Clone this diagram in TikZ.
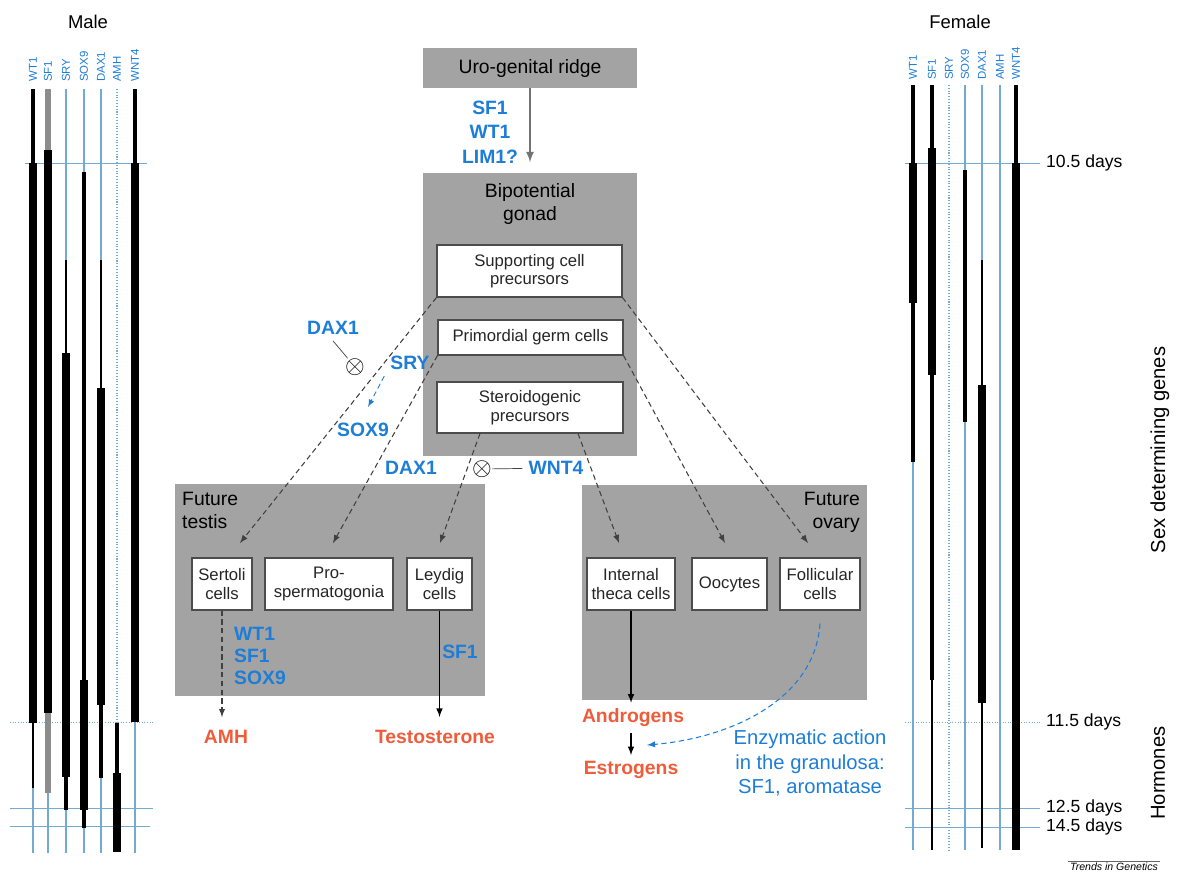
\documentclass[tikz,border=0pt]{standalone}
\usepackage{fontspec}
\setmainfont{Liberation Sans}
\usepackage{tikz}
\usetikzlibrary{arrows}

\definecolor{genblue}{RGB}{30,125,215}
\definecolor{hormred}{RGB}{238,92,58}
\definecolor{boxgrey}{RGB}{163,163,163}
\definecolor{barblue}{RGB}{115,170,210}

\begin{document}
\begin{tikzpicture}[x=0.02cm,y=-0.02cm,
  greybox/.style={fill=boxgrey,draw=none,inner sep=0pt},
  cellbox/.style={fill=white,draw=black!70,line width=0.6pt,inner sep=0pt,align=center,text=black!85,font=\fontsize{9.5}{10.5}\selectfont},
  boxtitle/.style={align=center,font=\fontsize{11}{13}\selectfont},
  gene/.style={text=genblue,align=center,font=\fontsize{11}{14}\selectfont\bfseries},
  hormone/.style={text=hormred,font=\fontsize{11}{13}\selectfont\bfseries},
  colname/.style={text=genblue,rotate=90,anchor=west,inner sep=0pt,font=\fontsize{6.5}{7}\selectfont},
  link/.style={-latex,densely dashed,black!75,line width=0.6pt},
  inhib/.style={inner sep=0pt,font=\fontsize{15}{16}\selectfont},
  barthick/.style={line width=4.2pt},
  barmed/.style={line width=2.8pt},
  barthin/.style={line width=1.5pt},
  bargrey/.style={line width=3pt,black!45},
  barnone/.style={line width=0.6pt,barblue},
  dayline/.style={barblue,line width=0.5pt},
  daylabel/.style={anchor=west,font=\fontsize{10}{12}\selectfont}]

\useasboundingbox (0,0) rectangle (1179,877);

% titles of the two columns of genes
\node[font=\fontsize{10.5}{12}\selectfont] (male) at (88,22) {Male};
\node[font=\fontsize{10.5}{12}\selectfont] (female) at (960,22) {Female};
\foreach \x/\g in {33/WT1,48/SF1,66/SRY,84/SOX9,101/DAX1,117/AMH,135/WNT4}
  \node[colname] (m\g) at (\x,82) {\g};
\foreach \x/\g in {913/WT1,932/SF1,949/SRY,965/SOX9,982/DAX1,1000/AMH,1016/WNT4}
  \node[colname] (f\g) at (\x,80) {\g};

% days
\node[daylabel] (d105) at (1040,163) {10.5 days};
\node[daylabel] (d115) at (1040,722) {11.5 days};
\node[daylabel] (d125) at (1040,808) {12.5 days};
\node[daylabel] (d145) at (1040,827) {14.5 days};
\draw[dayline] (25,163) -- (147,163);
\draw[dayline,densely dotted] (10,722) -- (153,722);
\draw[dayline] (10,808) -- (153,808);
\draw[dayline] (10,826) -- (150,826);
\draw[dayline] (905,163) -- (d105.west);
\draw[dayline,densely dotted] (905,722) -- (d115.west);
\draw[dayline] (905,808) -- (d125.west);
\draw[dayline] (905,827) -- (d145.west);

\node[rotate=90,font=\fontsize{11.5}{13}\selectfont] (sexlbl) at (1160,450) {Sex determining genes};
\node[rotate=90,font=\fontsize{11.5}{13}\selectfont] (hormlbl) at (1158,773) {Hormones};

% male bars
\draw[barmed] (33,89) -- (33,163);
\draw[barthick] (33,163) -- (33,723);
\draw[barthin] (33,723) -- (33,788);
\draw[barnone] (33,788) -- (33,853);
\draw[bargrey] (48,89) -- (48,150);
\draw[barthick] (48,150) -- (48,713);
\draw[bargrey] (48,713) -- (48,793);
\draw[barnone] (48,793) -- (48,853);
\draw[barnone] (66,89) -- (66,260);
\draw[barthin] (66,260) -- (66,353);
\draw[barthick] (66,353) -- (66,777);
\draw[barmed] (66,777) -- (66,810);
\draw[barnone] (66,810) -- (66,853);
\draw[barnone] (84,89) -- (84,172);
\draw[barmed] (84,172) -- (84,680);
\draw[barthick] (84,680) -- (84,810);
\draw[barmed] (84,810) -- (84,828);
\draw[barnone] (84,828) -- (84,853);
\draw[barnone] (101,89) -- (101,260);
\draw[barthin] (101,260) -- (101,388);
\draw[barthick] (101,388) -- (101,705);
\draw[barmed] (101,705) -- (101,778);
\draw[barnone] (101,778) -- (101,853);
\draw[barnone,densely dotted] (117,89) -- (117,723);
\draw[barmed] (117,723) -- (117,773);
\draw[barthick] (117,773) -- (117,852);
\draw[barmed] (135,89) -- (135,163);
\draw[barthick] (135,163) -- (135,722);
\draw[barnone] (135,722) -- (135,853);

% female bars
\draw[barmed] (913,85) -- (913,163);
\draw[barthick] (913,163) -- (913,303);
\draw[barmed] (913,303) -- (913,462);
\draw[barnone] (913,462) -- (913,850);
\draw[barmed] (932,85) -- (932,148);
\draw[barthick] (932,148) -- (932,375);
\draw[barmed] (932,375) -- (932,680);
\draw[barthin] (932,680) -- (932,850);
\draw[barnone,densely dotted] (949,85) -- (949,850);
\draw[barnone] (965,85) -- (965,170);
\draw[barmed] (965,170) -- (965,422);
\draw[barnone] (965,422) -- (965,850);
\draw[barnone] (982,85) -- (982,260);
\draw[barthin] (982,260) -- (982,385);
\draw[barthick] (982,385) -- (982,703);
\draw[barthin] (982,703) -- (982,848);
\draw[barnone] (1000,85) -- (1000,850);
\draw[barmed] (1016,85) -- (1016,163);
\draw[barthick] (1016,163) -- (1016,850);

% central scheme
\node[greybox,boxtitle,minimum width=4.28cm,minimum height=0.8cm] (uro) at (530,68) {Uro-genital ridge};
\node[greybox,minimum width=4.28cm,minimum height=5.66cm] (bipot) at (530,314.5) {};
\node[boxtitle] (bipotlbl) at (530,204) {Bipotential\\gonad};
\node[cellbox,minimum width=3.7cm,minimum height=1.04cm] (supp) at (529.5,271) {Supporting cell\\precursors};
\node[cellbox,minimum width=3.7cm,minimum height=0.7cm] (pgc) at (530.5,337.5) {Primordial germ cells};
\node[cellbox,minimum width=3.72cm,minimum height=1.02cm] (stero) at (530,407.5) {Steroidogenic\\precursors};
\node[gene] (ugenes) at (490,132) {SF1\\WT1\\LIM1?};
\draw[-latex,black!55,line width=1pt,shorten >=6pt] (uro.south) -- (bipot.north);

% future testis
\node[greybox,minimum width=6.2cm,minimum height=4.24cm] (testis) at (330,590) {};
\node[boxtitle,align=left,anchor=north west] (testislbl) at (176,486) {Future\\testis};
\node[cellbox,minimum width=1.2cm,minimum height=1.04cm] (sert) at (222,584) {Sertoli\\cells};
\node[cellbox,minimum width=2.56cm,minimum height=1.04cm] (spg) at (329,584) {Pro-\\spermatogonia};
\node[cellbox,minimum width=1.3cm,minimum height=1.04cm] (leyd) at (439.5,584) {Leydig\\cells};
\node[gene,align=left,anchor=west,font=\fontsize{11}{12.5}\selectfont\bfseries] (sertgenes) at (228,656) {WT1\\SF1\\SOX9};
\node[gene] (leygene) at (460,652) {SF1};
\node[hormone] (amh) at (226,737) {AMH};
\node[hormone] (testo) at (435,737) {Testosterone};
\draw[link,shorten >=4pt] (sert.south) -- (sert.south |- amh.north);
\draw[-latex,line width=0.7pt,shorten >=4pt] (leyd.south) -- (leyd.south |- testo.north);

% future ovary
\node[greybox,minimum width=5.7cm,minimum height=4.3cm] (ovary) at (724.5,592.5) {};
\node[boxtitle,align=right,anchor=north east] (ovarylbl) at (866,486) {Future\\ovary};
\node[cellbox,minimum width=1.76cm,minimum height=1.04cm] (theca) at (631,584) {Internal\\theca cells};
\node[cellbox,minimum width=1.5cm,minimum height=1.04cm] (oocy) at (729.5,584) {Oocytes};
\node[cellbox,minimum width=1.6cm,minimum height=1.04cm] (follic) at (820,584) {Follicular\\cells};
\node[hormone] (andro) at (633,718) {Androgens};
\node[hormone] (estro) at (631,770) {Estrogens};
\node[text=genblue,align=center,font=\fontsize{11.5}{14}\selectfont] (enzyme) at (810,763) {Enzymatic action\\in the granulosa:\\SF1, aromatase};
\draw[-latex,line width=0.7pt] (theca.south) -- (theca.south |- andro.north);
\draw[-latex,line width=0.7pt] (theca.south |- andro.south) -- (theca.south |- estro.north);
\coordinate (aromtip) at (647,745);
\draw[-latex,densely dashed,genblue,line width=0.6pt] ([yshift=-0.26cm]follic.south) .. controls (815,700) and (730,738) .. (aromtip);

% arrows into the future gonads
\coordinate (sertin) at (240,543);
\coordinate (spgin) at (333,543);
\coordinate (leydin) at (440,543);
\coordinate (thecain) at (619,543);
\coordinate (oocyin) at (725,543);
\coordinate (follin) at (808,543);
\draw[link] (supp.south west) -- (sertin);
\draw[link] (pgc.south west) -- (spgin);
\draw[link] ([xshift=-1cm]stero.south) -- (leydin);
\draw[link] ([xshift=0.96cm]stero.south) -- (thecain);
\draw[link] (pgc.south east) -- (oocyin);
\draw[link] (supp.south east) -- (follin);

% regulators
\node[gene] (dax1) at (333,328) {DAX1};
\node[inhib] (inh1) at (355,367) {$\otimes$};
\draw[black!75] (dax1.south) -- (inh1);
\node[gene] (sry) at (410,363) {SRY};
\node[gene] (sox9) at (363,430) {SOX9};
\coordinate (soxtip) at (368,407);
\draw[-latex,densely dashed,genblue,line width=0.5pt] (sry.south west) -- (soxtip);
\node[gene] (dax2) at (411,468) {DAX1};
\node[inhib] (inh2) at (482,469) {$\otimes$};
\node[gene] (wnt4) at (556,468) {WNT4};
\draw[black!75] (inh2) -- (wnt4);

% source
\node[font=\fontsize{6}{7}\selectfont\itshape,inner sep=1pt] (credit) at (1114,867) {Trends in Genetics};
\draw[black!60,line width=0.4pt] (credit.north west) -- (credit.north east);
\end{tikzpicture}
\end{document}
